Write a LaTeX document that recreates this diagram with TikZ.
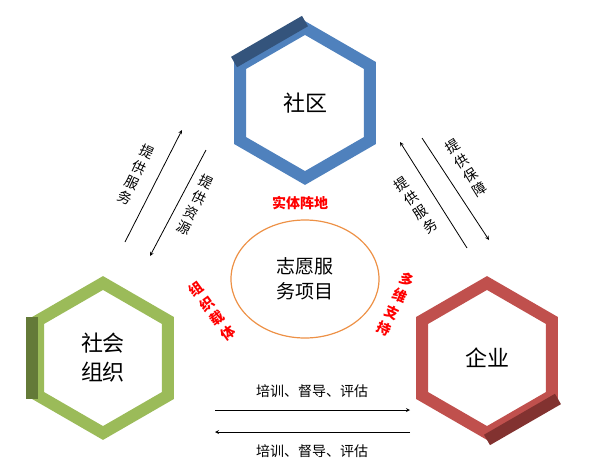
\documentclass[tikz,border=0pt]{standalone}
\usepackage{fontspec}
\setmainfont{Noto Sans CJK SC}
\usetikzlibrary{shapes.geometric}
\definecolor{hexblue}{RGB}{79,129,189}
\definecolor{hexblued}{RGB}{52,84,124}
\definecolor{hexgreen}{RGB}{155,187,89}
\definecolor{hexgreend}{RGB}{100,122,56}
\definecolor{hexred}{RGB}{192,80,77}
\definecolor{hexredd}{RGB}{130,50,48}
\definecolor{ringorange}{RGB}{237,145,70}
\tikzset{
  hexa/.style={regular polygon, regular polygon sides=6, shape border rotate=30,
    minimum size=150pt, line width=12pt, font=\fontsize{22}{29}\selectfont,
    align=center, inner sep=0pt},
  tag/.style={font=\fontsize{14}{17}\selectfont, align=center, inner sep=1pt},
  redtag/.style={font=\bfseries\fontsize{14}{18}\selectfont, text=red, align=center, inner sep=1pt},
  link/.style={->, >=stealth, line width=0.8pt}
}
\newcommand{\vtext}[1]{\def\vsep{}\vtextloop#1\relax}
\def\vtextloop#1{\ifx#1\relax\else\vsep#1\def\vsep{\\}\expandafter\vtextloop\fi}
\begin{document}
\begin{tikzpicture}[x=1pt,y=-1pt]
\useasboundingbox (0,0) rectangle (606,474);
% hexagons
\node[hexa, draw=hexblue] (shequ) at (305,103) {社区};
\draw[hexblued, line width=12pt] (shequ.corner 1) -- (shequ.corner 2);
\node[hexa, draw=hexgreen] (zuzhi) at (103,358) {社会\\组织};
\draw[hexgreend, line width=12pt] (zuzhi.corner 2) -- (zuzhi.corner 3);
\node[hexa, draw=hexred] (qiye) at (487,358) {企业};
\draw[hexredd, line width=12pt] (qiye.corner 4) -- (qiye.corner 5);
% centre
\node[ellipse, draw=ringorange, line width=1.2pt, minimum width=148pt, minimum height=118pt,
  align=center, font=\fontsize{19}{25}\selectfont] (xiangmu) at (305,279) {志愿服\\务项目};
% red labels
\node[redtag] (zhendi) at (300,203) {实体阵地};
\node[redtag, rotate=36] (zaiti) at (212,311) {\vtext{组织载体}};
\node[redtag, rotate=-25] (zhichi) at (396,304) {\vtext{多维支持}};
% community <-> organisation
\coordinate (a1) at (125,242); \coordinate (a2) at (182,130);
\coordinate (b1) at (206,150); \coordinate (b2) at (150,256);
\draw[link] (a1) -- (a2);
\draw[link] (b1) -- (b2);
\node[tag, rotate=-25] (fuwu1) at (136,175) {\vtext{提供服务}};
\node[tag, rotate=-26] (ziyuan) at (195,205) {\vtext{提供资源}};
% community <-> enterprise
\coordinate (c1) at (467,248); \coordinate (c2) at (400,142);
\coordinate (d1) at (422,138); \coordinate (d2) at (489,240);
\draw[link] (c1) -- (c2);
\draw[link] (d1) -- (d2);
\node[tag, rotate=34] (fuwu2) at (416,205) {\vtext{提供服务}};
\node[tag, rotate=32] (baozhang) at (466,168) {\vtext{提供保障}};
% organisation <-> enterprise
\coordinate (e1) at (215,410); \coordinate (e2) at (410,410);
\coordinate (f1) at (410,432); \coordinate (f2) at (215,432);
\draw[link] (e1) -- (e2);
\draw[link] (f1) -- (f2);
\node[tag] (peixun1) at (312,391) {培训、督导、评估};
\node[tag] (peixun2) at (312,451) {培训、督导、评估};
\end{tikzpicture}
\end{document}
